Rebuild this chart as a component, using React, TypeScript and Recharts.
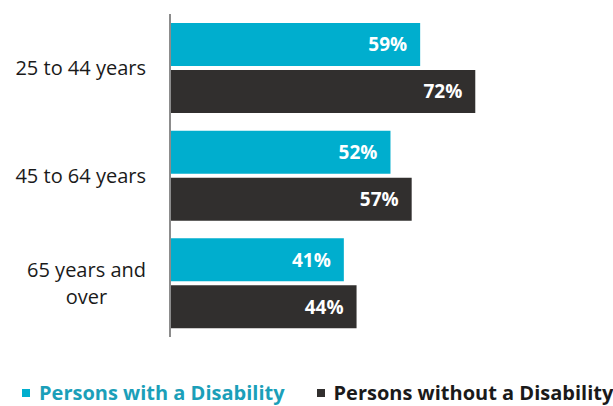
import { BarChart, Bar, XAxis, YAxis, LabelList, Legend } from 'recharts';

const categories = ['25 to 44 years', '45 to 64 years', '65 years and over'];
const withDisability = [59, 52, 41];
const withoutDisability = [72, 57, 44];

const CYAN = '#00AECE';
const DARK = '#312F2E';
const FONT = '"Open Sans", sans-serif';

const data = categories.map((name, i) => ({
  name,
  withD: withDisability[i],
  withoutD: withoutDisability[i],
}));

// split long category names over two lines like the original
function splitLabel(label: string): string[] {
  if (label === '65 years and over') return ['65 years and', 'over'];
  return [label];
}

let ctx: CanvasRenderingContext2D | null = null;
function measure(text: string, font: string) {
  if (!ctx) ctx = document.createElement('canvas').getContext('2d');
  if (!ctx) return text.length * 10;
  ctx.font = font;
  return ctx.measureText(text).width;
}

function CategoryTick({ x, y, payload }: { x?: number; y?: number; payload?: { value: string } }) {
  const lines = splitLabel(payload?.value ?? '');
  const fontSize = 20;
  const widest = Math.max(...lines.map((l) => measure(l, `${fontSize}px ${FONT}`)));
  const cx = (x ?? 0) - 16 - widest / 2;
  const lineHeight = 27;
  const startY = (y ?? 0) - ((lines.length - 1) * lineHeight) / 2;
  return (
    <text textAnchor="middle" fontFamily={FONT} fontSize={fontSize} fill="#1a1a1a">
      {lines.map((l, i) => (
        <tspan key={l} x={cx} y={startY + i * lineHeight} dy="0.35em">
          {l}
        </tspan>
      ))}
    </text>
  );
}

function ChartLegend() {
  const items = [
    { label: 'Persons with a Disability', color: CYAN, text: '#1B9FB9' },
    { label: 'Persons without a Disability', color: DARK, text: '#1a1a1a' },
  ];
  return (
    <div style={{ display: 'flex', gap: 32, paddingLeft: 22, fontFamily: FONT, fontWeight: 700, fontSize: 20, whiteSpace: 'nowrap' }}>
      {items.map((it) => (
        <div key={it.label} style={{ display: 'flex', alignItems: 'center', gap: 9, color: it.text }}>
          <span style={{ width: 8, height: 8, background: it.color, display: 'inline-block' }} />
          {it.label}
        </div>
      ))}
    </div>
  );
}

export default function App() {
  return (
    <div style={{ position: 'absolute', left: 0, top: 0, width: 613, height: 406, background: '#fff', overflow: 'hidden' }}>
      <BarChart
        width={613}
        height={406}
        data={data}
        layout="vertical"
        margin={{ top: 14, right: 19, bottom: 42, left: 0 }}
        barCategoryGap={9}
        barGap={4}
      >
        <XAxis type="number" domain={[0, 100]} hide />
        <YAxis
          type="category"
          dataKey="name"
          width={170}
          axisLine={{ stroke: '#8c8c8c', strokeWidth: 2 }}
          tickLine={false}
          tick={<CategoryTick />}
        />
        <Legend
          verticalAlign="bottom"
          align="left"
          wrapperStyle={{ left: 0, bottom: 0, width: 613 }}
          content={<ChartLegend />}
        />
        <Bar dataKey="withD" name="Persons with a Disability" fill={CYAN} isAnimationActive={false}>
          <LabelList
            dataKey="withD"
            position="insideRight"
            offset={13}
            formatter={(v: number) => `${v}%`}
            fill="#fff"
            fontFamily={FONT}
            fontWeight={700}
            fontSize={19}
          />
        </Bar>
        <Bar dataKey="withoutD" name="Persons without a Disability" fill={DARK} isAnimationActive={false}>
          <LabelList
            dataKey="withoutD"
            position="insideRight"
            offset={13}
            formatter={(v: number) => `${v}%`}
            fill="#fff"
            fontFamily={FONT}
            fontWeight={700}
            fontSize={19}
          />
        </Bar>
      </BarChart>
    </div>
  );
}
